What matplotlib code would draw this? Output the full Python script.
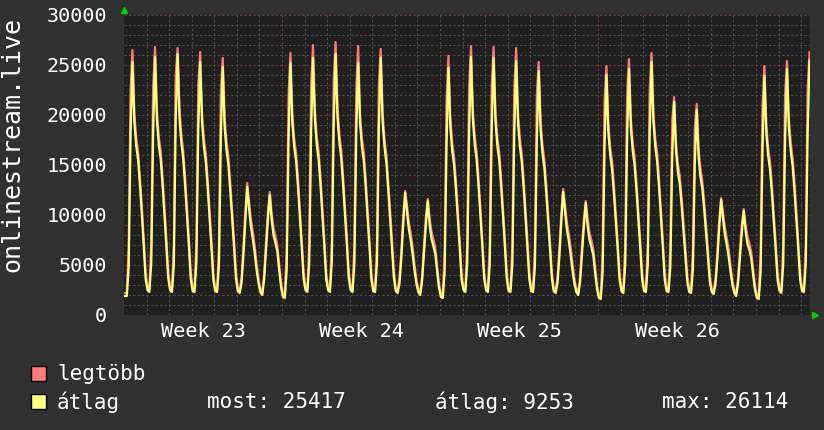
import numpy as np
import matplotlib
matplotlib.use("Agg")
import matplotlib.pyplot as plt
from matplotlib.patches import Rectangle
from matplotlib.lines import Line2D

# ---------------- data (2-hour samples, 12 per day, starting Monday of week 23) -------------
atlag = [  # average ("átlag")
    1900, 1900, 4800, 18000, 25300, 19300, 16900, 15500, 12900, 10000, 6900, 3600,
    2500, 2300, 5200, 18200, 25800, 19500, 17000, 15600, 13000, 10000, 7000, 3700,
    2500, 2300, 5000, 19500, 26100, 19700, 17200, 15600, 12900, 9900, 6900, 3600,
    2400, 2300, 5300, 18500, 25300, 19200, 16800, 15300, 12700, 9700, 6700, 3500,
    2400, 2300, 5000, 17800, 24800, 18800, 16500, 15000, 12400, 9600, 6800, 3700,
    2400, 2200, 3200, 6000, 9500, 12800, 10600, 8800, 7600, 6200, 4500, 3200,
    2300, 2000, 3500, 6500, 9500, 12000, 9500, 8000, 7200, 6400, 4500, 2800,
    1800, 1700, 4500, 17500, 25200, 19200, 16800, 15400, 12800, 9800, 6800, 3600,
    2500, 2300, 5200, 18500, 25700, 19500, 17000, 15500, 12900, 9900, 6900, 3600,
    2500, 2300, 5300, 19000, 26114, 19800, 17300, 15700, 13000, 10000, 7000, 3700,
    2500, 2300, 5100, 18200, 25200, 19200, 16800, 15400, 12800, 9800, 6800, 3600,
    2400, 2300, 5200, 18500, 25700, 19300, 16800, 15200, 12500, 9600, 6800, 3700,
    2400, 2200, 3200, 5800, 9200, 12200, 10200, 8500, 7400, 6000, 4400, 3100,
    2300, 2000, 3400, 6200, 9000, 11400, 9000, 7600, 6900, 6100, 4300, 2700,
    1800, 1700, 4400, 17000, 24700, 18800, 16400, 15000, 12500, 9600, 6700, 3500,
    2500, 2300, 5200, 18300, 25800, 19500, 17000, 15500, 12900, 9900, 6900, 3600,
    2500, 2300, 5200, 18400, 25700, 19400, 16900, 15500, 12900, 9900, 6900, 3600,
    2400, 2300, 5100, 18000, 25400, 19200, 16800, 15300, 12700, 9700, 6800, 3600,
    2400, 2300, 4900, 17500, 24400, 18500, 16200, 14700, 12200, 9400, 6600, 3600,
    2400, 2200, 3200, 5900, 9300, 12300, 10300, 8500, 7400, 6000, 4400, 3100,
    2300, 2000, 3300, 6100, 8800, 11200, 8900, 7500, 6800, 6000, 4200, 2600,
    1700, 1600, 4300, 16800, 24000, 18300, 16000, 14600, 12100, 9300, 6500, 3500,
    2400, 2200, 5000, 17600, 24600, 18700, 16400, 14900, 12400, 9500, 6600, 3500,
    2400, 2300, 5100, 18000, 25300, 19200, 16800, 15300, 12700, 9700, 6700, 3500,
    2400, 2300, 4800, 15800, 21300, 16400, 14300, 13100, 10900, 8400, 5900, 3300,
    2300, 2200, 4600, 15200, 20500, 15800, 13800, 12600, 10500, 8100, 5800, 3300,
    2300, 2100, 3100, 5600, 8800, 11500, 9600, 8000, 7000, 5800, 4300, 3000,
    2200, 1900, 3200, 5800, 8300, 10400, 8400, 7100, 6500, 5700, 4000, 2500,
    1700, 1600, 4300, 16600, 23900, 18200, 15900, 14500, 12100, 9300, 6500, 3500,
    2400, 2200, 5000, 17500, 24600, 18700, 16400, 14900, 12400, 9500, 6600, 3500,
    2400, 2300, 5100, 18200, 25417,
]

legtobb = [  # maximum ("legtöbb")
    2200, 2200, 6800, 22500, 26500, 20200, 17700, 16300, 13700, 10800, 7600, 4200,
    2800, 2600, 7200, 22700, 26800, 20400, 17800, 16400, 13800, 10800, 7700, 4300,
    2800, 2600, 7000, 24000, 26700, 20600, 18000, 16400, 13700, 10700, 7600, 4200,
    2700, 2600, 7300, 23000, 26300, 20100, 17600, 16100, 13500, 10500, 7400, 4100,
    2700, 2600, 7000, 22300, 25700, 19700, 17300, 15800, 13200, 10400, 7500, 4300,
    2700, 2500, 3700, 6800, 10300, 13200, 11300, 9500, 8300, 6900, 5100, 3600,
    2600, 2300, 4000, 7300, 10300, 12300, 10200, 8700, 7900, 7000, 5100, 3200,
    2100, 2000, 6500, 22000, 26200, 20100, 17600, 16200, 13600, 10600, 7500, 4200,
    2800, 2600, 7200, 23000, 27000, 20400, 17800, 16300, 13700, 10700, 7600, 4200,
    2800, 2600, 7300, 23500, 27300, 20700, 18100, 16500, 13800, 10800, 7700, 4300,
    2800, 2600, 7100, 22700, 26900, 20100, 17600, 16200, 13600, 10600, 7500, 4200,
    2700, 2600, 7200, 23000, 26600, 20200, 17600, 16000, 13300, 10400, 7500, 4300,
    2700, 2500, 3700, 6600, 10000, 12400, 10900, 9200, 8100, 6700, 5000, 3500,
    2600, 2300, 3900, 7000, 9800, 11600, 9700, 8300, 7600, 6700, 4900, 3100,
    2100, 2000, 6400, 21500, 25900, 19700, 17200, 15800, 13300, 10400, 7400, 4100,
    2800, 2600, 7200, 22800, 26900, 20400, 17800, 16300, 13700, 10700, 7600, 4200,
    2800, 2600, 7200, 22900, 26800, 20300, 17700, 16300, 13700, 10700, 7600, 4200,
    2700, 2600, 7100, 22500, 26700, 20100, 17600, 16100, 13500, 10500, 7500, 4200,
    2700, 2600, 6900, 22000, 25300, 19400, 17000, 15500, 13000, 10200, 7300, 4200,
    2700, 2500, 3700, 6700, 10100, 12600, 11000, 9200, 8100, 6700, 5000, 3500,
    2600, 2300, 3800, 6900, 9600, 11400, 9600, 8200, 7500, 6600, 4800, 3000,
    2000, 1900, 6300, 21300, 24900, 19200, 16800, 15400, 12900, 10100, 7200, 4100,
    2700, 2500, 7000, 22100, 25600, 19600, 17200, 15700, 13200, 10300, 7300, 4100,
    2700, 2600, 7100, 22500, 26200, 20100, 17600, 16100, 13500, 10500, 7400, 4100,
    2700, 2600, 6800, 19500, 21800, 17200, 15100, 13900, 11700, 9200, 6600, 3900,
    2600, 2500, 6600, 18800, 21100, 16600, 14600, 13400, 11300, 8900, 6500, 3900,
    2600, 2400, 3600, 6400, 9600, 11700, 10200, 8700, 7700, 6500, 4900, 3400,
    2500, 2200, 3700, 6600, 9100, 10600, 9000, 7800, 7200, 6300, 4600, 2900,
    2000, 1900, 6300, 21000, 24900, 19100, 16700, 15300, 12900, 10100, 7200, 4100,
    2700, 2500, 7000, 22000, 25400, 19600, 17200, 15700, 13200, 10300, 7300, 4100,
    2700, 2600, 7100, 22700, 26300,
]

samples_per_day = 12
week_labels = ["Week 23", "Week 24", "Week 25", "Week 26"]
week_centers = [3.5, 10.5, 17.5, 24.5]
y_ticks = [0, 5000, 10000, 15000, 20000, 25000, 30000]
stat_most = 25417
stat_atlag = 9253
stat_max = 26114

# ---------------- style ----------------
W, H = 824, 430
DPI = 100
BG = "#313131"
PLOT_BG = "#202020"
RED = "#ff7b7b"
YELLOW = "#ffff80"
MONO = "DejaVu Sans Mono"

fig = plt.figure(figsize=(W / DPI, H / DPI), dpi=DPI, facecolor=BG)
left, right, top, bottom = 124, 810, 15, 315
ax = fig.add_axes([left / W, 1 - bottom / H, (right - left) / W, (bottom - top) / H])
ax.set_facecolor(PLOT_BG)

n = len(atlag)
t = (np.arange(n) + 0.5) / samples_per_day
avg_arr = np.array(atlag)
max_arr = np.array(legtobb)

ax.set_xlim(0, t[-1] + 0.02)
ax.set_ylim(0, 30000)

# grid
for d in range(1, int(t[-1]) + 1):
    major = d % 7 == 0
    ax.axvline(d, color="#6e3c3c" if major else "#4e4e4e", lw=0.8,
               ls=(0, (2, 2)), zorder=1)
for v in range(1000, 30001, 1000):
    major = v % 5000 == 0
    ax.axhline(v, color="#6e3c3c" if major else "#4e4e4e", lw=0.8,
               ls=(0, (2, 2)), zorder=1)

ax.plot(t, max_arr, color=RED, lw=1.6, zorder=3, solid_joinstyle="round")
ax.plot(t, avg_arr, color=YELLOW, lw=1.6, zorder=4, solid_joinstyle="round")

for s in ax.spines.values():
    s.set_visible(False)

ax.set_xticks(week_centers)
ax.set_xticklabels(week_labels, fontfamily=MONO, fontsize=14.5, color="white")
ax.set_yticks(y_ticks)
ax.set_yticklabels([str(v) for v in y_ticks], fontfamily=MONO, fontsize=14.5, color="white")
ax.tick_params(axis="both", length=0)
ax.tick_params(axis="y", pad=12)
ax.tick_params(axis="x", pad=5)

fig.text(12 / W, 1 - 144 / H, "onlinestream.live", rotation=90, ha="center", va="center",
         fontfamily=MONO, fontsize=18, color="white")

# axis arrows
fig.add_artist(Line2D([left / W], [1 - 10 / H], marker="^", markersize=5, color="#00d000",
                      transform=fig.transFigure, linestyle="none"))
fig.add_artist(Line2D([815 / W], [1 - bottom / H], marker=">", markersize=5, color="#00d000",
                      transform=fig.transFigure, linestyle="none"))

# legend
def square(y0, color):
    fig.add_artist(Rectangle((31 / W, 1 - (y0 + 15) / H), 15 / W, 15 / H,
                             transform=fig.transFigure, facecolor=color,
                             edgecolor="black", lw=1))

square(366, RED)
square(394, YELLOW)
fs = 15
fig.text(57 / W, 1 - 374 / H, "legtöbb", fontfamily=MONO, fontsize=fs, color="white", va="center")
fig.text(57 / W, 1 - 402 / H, "átlag", fontfamily=MONO, fontsize=fs, color="white", va="center")
fig.text(207 / W, 1 - 402 / H, f"most: {stat_most}", fontfamily=MONO, fontsize=fs,
         color="white", va="center")
fig.text(435 / W, 1 - 402 / H, f"átlag: {stat_atlag}", fontfamily=MONO, fontsize=fs,
         color="white", va="center")
fig.text(662 / W, 1 - 402 / H, f"max: {stat_max}", fontfamily=MONO, fontsize=fs,
         color="white", va="center")

fig.savefig("out.png", dpi=DPI, facecolor=BG)
